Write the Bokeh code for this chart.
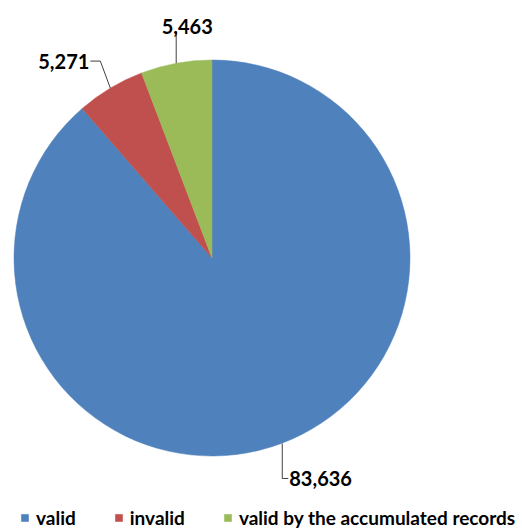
import math
from bokeh.plotting import figure
from bokeh.models import ColumnDataSource, Range1d
from bokeh.core.properties import value
from bokeh.embed import file_html
from bokeh.resources import INLINE

categories = ["valid", "invalid", "valid by the accumulated records"]
values = [83636, 5271, 5463]
value_labels = ["83,636", "5,271", "5,463"]
colors = ["#4F81BD", "#C0504D", "#9BBB59"]

W, H = 522, 529
cx, cy, R = 211.5, H - 257.5, 198.0

total = float(sum(values))
starts, ends, mids = [], [], []
acc = 0.0
for v in values:
    a0 = math.pi / 2 - 2 * math.pi * acc / total
    acc += v
    a1 = math.pi / 2 - 2 * math.pi * acc / total
    starts.append(a0)
    ends.append(a1)
    mids.append((a0 + a1) / 2)

src = ColumnDataSource(dict(category=categories, value=values, start=starts,
                            end=ends, color=colors))

p = figure(width=W, height=H, x_range=Range1d(0, W), y_range=Range1d(0, H),
           output_backend="svg", toolbar_location=None, min_border=0,
           outline_line_color=None)
p.axis.visible = False
p.grid.visible = False
p.background_fill_color = "white"

p.wedge(x=cx, y=cy, radius=R, start_angle="start", end_angle="end",
        direction="clock", fill_color="color", line_color="color",
        line_width=0.5, legend_field="category", source=src)

# leader lines and labels
line_col = "#404040"
font = value("Lato")
anchors = [(cx + R * math.cos(m), cy + R * math.sin(m)) for m in mids]

# valid: down then right
ax, ay = anchors[0]
p.line([ax + 1, ax + 1, ax + 7], [ay, ay - 35, ay - 35], line_color=line_col, line_width=1)
p.text(x=[ax + 8], y=[ay - 35], text=[value_labels[0]], text_font=font,
       text_font_style="bold", text_font_size="20px", text_align="left",
       text_baseline="alphabetic", text_color="black")

# invalid: up-left then left
ax, ay = anchors[1]
p.line([ax, ax - 10, ax - 20], [ay, ay + 27, ay + 27], line_color=line_col, line_width=1)
p.text(x=[ax - 21], y=[ay + 27], text=[value_labels[1]], text_font=font,
       text_font_style="bold", text_font_size="20px", text_align="right",
       text_baseline="alphabetic", text_color="black")

# valid by accumulated: straight up
ax, ay = anchors[2]
p.line([ax, ax], [ay, ay + 32], line_color=line_col, line_width=1)
p.text(x=[ax + 11], y=[ay + 37], text=[value_labels[2]], text_font=font,
       text_font_style="bold", text_font_size="20px", text_align="center",
       text_baseline="alphabetic", text_color="black")

lg = p.legend[0]
lg.orientation = "horizontal"
lg.location = (20, 0)
lg.border_line_color = None
lg.background_fill_alpha = 0
lg.padding = 0
lg.margin = 0
lg.spacing = 38
lg.glyph_width = 9
lg.glyph_height = 9
lg.label_standoff = 7
lg.label_height = 18
lg.label_text_font = "Lato"
lg.label_text_font_style = "bold"
lg.label_text_font_size = "19px"
lg.label_text_color = "black"

open("out.html", "w").write(file_html(p, INLINE))
